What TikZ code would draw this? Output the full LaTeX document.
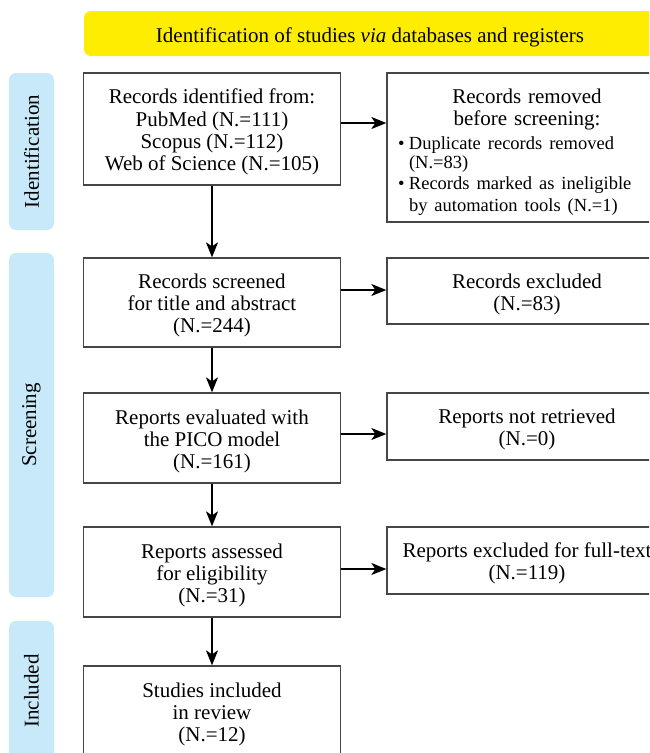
\documentclass[tikz,border=0pt]{standalone}
\usepackage{fontspec}
\setmainfont{Liberation Serif}
\usepackage{tikz}
\usetikzlibrary{arrows.meta}
\usepackage{xcolor}
\definecolor{bannercolor}{RGB}{255, 237, 0}
\definecolor{phasecolor}{RGB}{200, 233, 249}
\definecolor{framecolor}{RGB}{70, 70, 70}
\newcommand{\boxstrut}{\rule{0pt}{21pt}}

\begin{document}
\begin{tikzpicture}[x=1pt, y=-1pt,
    box/.style={rectangle, draw=framecolor, line width=1.3pt, minimum width=257pt, inner sep=0pt, align=center, font=\fontsize{21}{22.2}\selectfont},
    sidebox/.style={box, minimum width=280pt},
    phase/.style={rectangle, rounded corners=7pt, fill=phasecolor, rotate=90, minimum height=45pt, font=\fontsize{21}{22}\selectfont},
    arr/.style={-{Stealth[length=15pt, width=12pt, inset=4pt]}, line width=1.2pt},
]
    \path[use as bounding box, clip] (0,0) rectangle (649,753);

    % Header
    \node[rectangle, rounded corners=7pt, fill=bannercolor, minimum width=572pt, minimum height=45pt, text height=18pt, text depth=0pt, font=\fontsize{21}{22}\selectfont] (banner) at (370, 33.5) {Identification of studies \textit{via} databases and registers};

    % Phases
    \node[phase, minimum width=157pt] (identification) at (31.5, 151.5) {Identification};
    \node[phase, minimum width=344pt] (screening) at (31.5, 425) {Screening};
    \node[phase, minimum width=140pt] (included) at (31.5, 691) {Included};

    % Main flow
    \node[box, minimum height=112pt] (identified) at (212, 129) {\boxstrut Records identified from:\\PubMed (N.=111)\\Scopus (N.=112)\\Web of Science (N.=105)};
    \node[box, minimum height=89pt] (screened) at (212, 302.5) {\boxstrut Records screened\\for title and abstract\\(N.=244)};
    \node[box, minimum height=90pt] (evaluated) at (212, 438) {\boxstrut Reports evaluated with\\the PICO model\\(N.=161)};
    \node[box, minimum height=90pt] (assessed) at (212, 572) {\boxstrut Reports assessed\\for eligibility\\(N.=31)};
    \node[box, minimum height=90pt] (studies) at (212, 711) {\boxstrut Studies included\\in review\\(N.=12)};

    % Removed records
    \node[sidebox, minimum height=149pt, text width=258pt, align=left] (removed) at (527, 147.5) {\centering\rule{0pt}{24pt}Records removed\\before screening:\par
        \raggedright\vspace{4pt}\fontsize{18.5}{19.5}\selectfont
        \textbullet\hspace{4.5pt}Duplicate records removed\par
        \hspace*{11pt}(N.=83)\par\vspace{1.5pt}
        \textbullet\hspace{4.5pt}Records marked as ineligible\par
        \hspace*{11pt}by automation tools (N.=1)};
    \node[sidebox, minimum height=66pt] (excluded) at (527, 291) {\boxstrut Records excluded\\(N.=83)};
    \node[sidebox, minimum height=67pt] (retrieved) at (527, 426.5) {\boxstrut Reports not retrieved\\(N.=0)};
    \node[sidebox, minimum height=67pt] (fulltext) at (527, 560.5) {\boxstrut Reports excluded for full-text\\(N.=119)};

    % Arrows
    \draw[arr] (identified) -- (screened);
    \draw[arr] (screened) -- (evaluated);
    \draw[arr] (evaluated) -- (assessed);
    \draw[arr] (assessed) -- (studies);

    \draw[arr] ([yshift=6pt]identified.east) -- ([yshift=6pt]identified.east -| removed.west);
    \draw[arr] ([yshift=12.5pt]screened.east) -- ([yshift=12.5pt]screened.east -| excluded.west);
    \draw[arr] ([yshift=4pt]evaluated.east) -- ([yshift=4pt]evaluated.east -| retrieved.west);
    \draw[arr] ([yshift=3pt]assessed.east) -- ([yshift=3pt]assessed.east -| fulltext.west);
\end{tikzpicture}
\end{document}
